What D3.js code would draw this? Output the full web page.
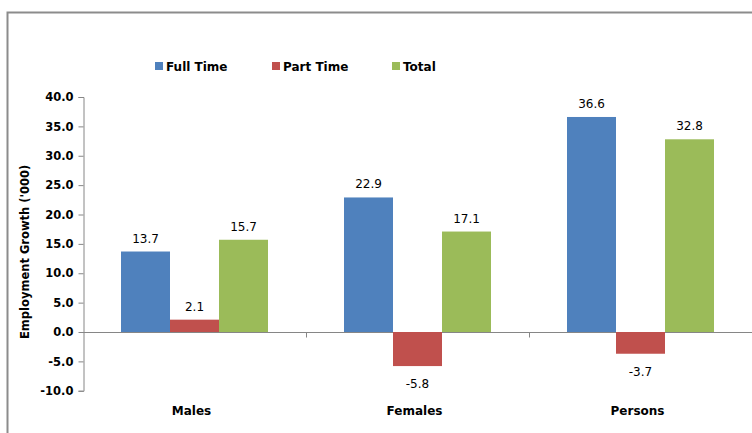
<!DOCTYPE html>
<html>
<head>
<meta charset="utf-8">
<script src="https://cdn.jsdelivr.net/npm/d3@7"></script>
<style>
  body { margin: 0; background: #fff; }
  svg { display: block; }
</style>
</head>
<body>
<div id="chart"></div>
<script>
const categories = ['Males', 'Females', 'Persons'];
const seriesNames = ['Full Time', 'Part Time', 'Total'];
const fullTime = [13.7, 22.9, 36.6];
const partTime = [2.1, -5.8, -3.7];
const total = [15.7, 17.1, 32.8];
const yTicks = [-10, -5, 0, 5, 10, 15, 20, 25, 30, 35, 40];
const colors = ['#4f81bd', '#c0504d', '#9bbb59'];

const width_svg = 752, height_svg = 433;
const margin = {top: 97, right: 0, bottom: 42, left: 83};
const svg = d3.select('#chart').append('svg')
  .attr('width', width_svg)
  .attr('height', height_svg);

// 用普通连字符做负号
const fmt = d3.formatLocale({decimal: '.', thousands: ',', grouping: [3], currency: ['', ''], minus: '-'}).format('.1f');

// 外框
svg.append('path')
  .attr('d', `M7.5,${height_svg} V12.5 H${width_svg}`)
  .attr('fill', 'none')
  .attr('stroke', '#8c8c8c')
  .attr('stroke-width', 2);

const series = [fullTime, partTime, total];
const data = categories.map((c, i) => ({cat: c, values: series.map((s, j) => ({name: seriesNames[j], v: s[i], j}))}));

const xScale = d3.scaleBand()
  .domain(categories)
  .range([margin.left, width_svg - margin.right])
  .paddingInner(0).paddingOuter(0);
const x1 = d3.scaleBand()
  .domain(d3.range(seriesNames.length))
  .range([38, xScale.bandwidth() - 38]);
const yScale = d3.scaleLinear()
  .domain([-10, 40])
  .range([height_svg - margin.bottom - 0.25, margin.top]);

const font = 'Tahoma, "DejaVu Sans", sans-serif';

// y 轴
svg.append('g')
  .attr('transform', `translate(${margin.left}.5,0)`)
  .call(d3.axisLeft(yScale).tickValues(yTicks).tickSize(5).tickPadding(5).tickFormat(fmt))
  .call(g => g.select('.domain').attr('stroke', '#868686'))
  .call(g => g.selectAll('.tick line').attr('stroke', '#868686'))
  .call(g => g.selectAll('.tick text')
    .attr('font-family', font)
    .attr('font-weight', 'bold')
    .attr('font-size', 11.5)
    .attr('fill', '#000'));

// 零线 + 类别刻度
const y0 = Math.round(yScale(0)) + 0.5;
svg.append('line')
  .attr('x1', margin.left).attr('x2', width_svg)
  .attr('y1', y0).attr('y2', y0)
  .attr('stroke', '#868686');
svg.append('g').selectAll('line')
  .data(categories.slice(1))
  .enter().append('line')
  .attr('x1', d => Math.round(xScale(d)) + 0.5)
  .attr('x2', d => Math.round(xScale(d)) + 0.5)
  .attr('y1', y0).attr('y2', y0 + 5)
  .attr('stroke', '#868686');

// 类别标签
svg.append('g').selectAll('text')
  .data(categories)
  .enter().append('text')
  .attr('x', d => xScale(d) + xScale.bandwidth() / 2 - 3)
  .attr('y', 415)
  .attr('text-anchor', 'middle')
  .attr('font-family', font)
  .attr('font-weight', 'bold')
  .attr('font-size', 12)
  .text(d => d);

// 柱
const groups = svg.append('g').selectAll('g')
  .data(data)
  .enter().append('g')
  .attr('transform', d => `translate(${xScale(d.cat)},0)`);

groups.selectAll('rect')
  .data(d => d.values)
  .enter().append('rect')
  .attr('x', d => x1(d.j))
  .attr('width', x1.bandwidth())
  .attr('y', d => yScale(Math.max(0, d.v)))
  .attr('height', d => Math.abs(yScale(d.v) - yScale(0)))
  .attr('fill', d => colors[d.j]);

groups.selectAll('text')
  .data(d => d.values)
  .enter().append('text')
  .attr('x', d => x1(d.j) + x1.bandwidth() / 2)
  .attr('y', d => d.v >= 0 ? yScale(d.v) - 9 : yScale(d.v) + 22)
  .attr('text-anchor', 'middle')
  .attr('font-family', font)
  .attr('font-size', 12)
  .attr('fill', '#000')
  .text(d => fmt(d.v));

// 轴标题
svg.append('text')
  .attr('transform', `translate(29,${(yScale(40) + yScale(-10)) / 2 + 8}) rotate(-90)`)
  .attr('text-anchor', 'middle')
  .attr('font-family', font)
  .attr('font-weight', 'bold')
  .attr('font-size', 11.5)
  .text("Employment Growth ('000)");

// 图例
const legendX = [155, 272, 392];
const legend = svg.append('g').selectAll('g')
  .data(seriesNames)
  .enter().append('g')
  .attr('transform', (d, i) => `translate(${legendX[i]},62)`);
legend.append('rect')
  .attr('width', 8).attr('height', 8)
  .attr('fill', (d, i) => colors[i]);
legend.append('text')
  .attr('x', 11).attr('y', 8.5)
  .attr('font-family', font)
  .attr('font-weight', 'bold')
  .attr('font-size', 12)
  .text(d => d);
</script>
</body>
</html>
